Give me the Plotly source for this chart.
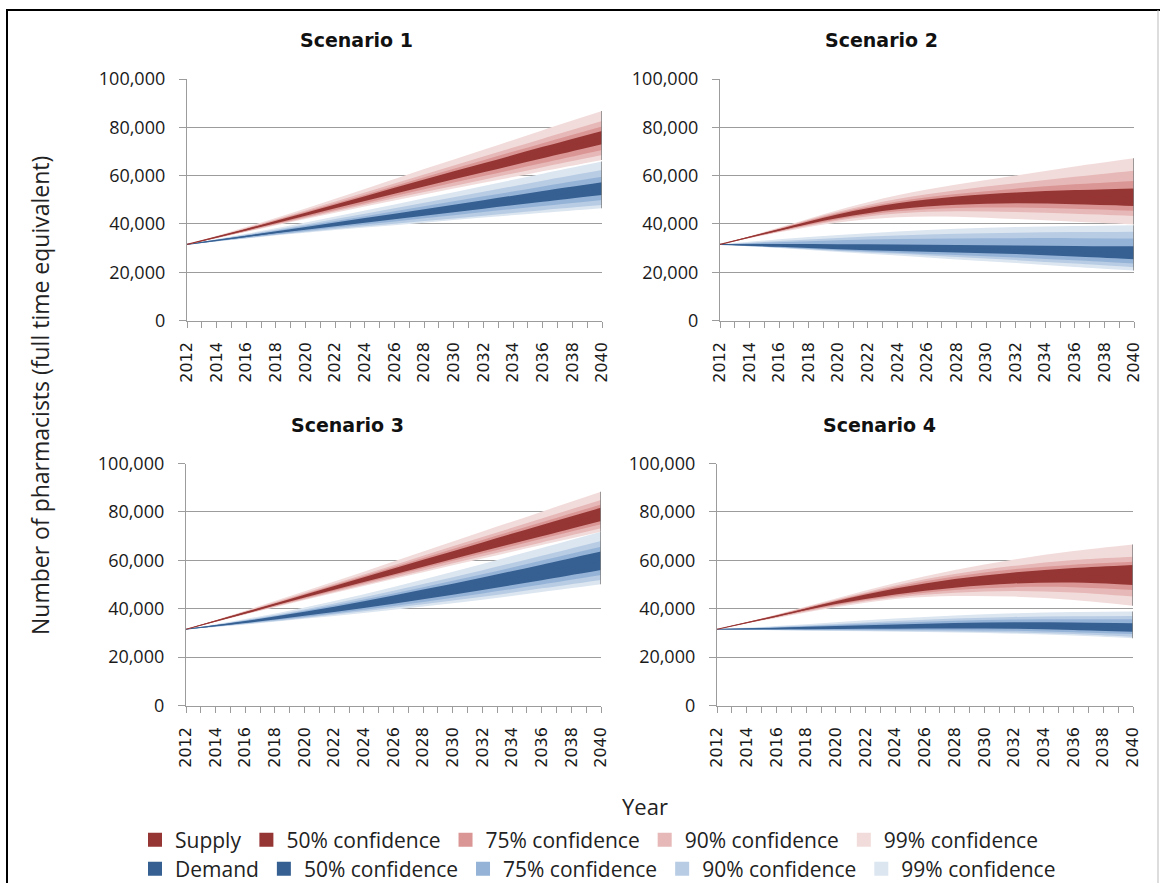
import plotly.graph_objects as go
from plotly.subplots import make_subplots

# ---------------- data (thousands of FTE pharmacists) ----------------
YEARS = [2012, 2016, 2020, 2024, 2028, 2032, 2036, 2040]
TICK_YEARS = list(range(2012, 2041))
LABEL_YEARS = [str(y) if y % 2 == 0 else "" for y in TICK_YEARS]
Y_TICKS = [0, 20000, 40000, 60000, 80000, 100000]
Y_LABELS = ["0", "20,000", "40,000", "60,000", "80,000", "100,000"]
TITLES = ["Scenario 1", "Scenario 2", "Scenario 3", "Scenario 4"]

# Scenario 1 - supply
s1_sup_mid = [31.5, 37.6, 44.0, 50.5, 57.0, 63.3, 69.6, 75.8]
s1_sup_lo99 = [31.5, 36.7, 42.0, 47.2, 52.2, 57.0, 61.8, 66.5]
s1_sup_lo90 = [31.5, 36.9, 42.4, 47.9, 53.2, 58.3, 63.5, 68.5]
s1_sup_lo75 = [31.5, 37.1, 42.9, 48.6, 54.3, 59.8, 65.2, 70.6]
s1_sup_lo50 = [31.5, 37.3, 43.4, 49.5, 55.5, 61.4, 67.2, 73.0]
s1_sup_hi50 = [31.5, 37.9, 44.6, 51.5, 58.4, 65.1, 71.9, 78.5]
s1_sup_hi75 = [31.5, 38.1, 45.0, 52.1, 59.3, 66.4, 73.4, 80.3]
s1_sup_hi90 = [31.5, 38.3, 45.5, 53.0, 60.5, 67.9, 75.3, 82.6]
s1_sup_hi99 = [31.5, 38.7, 46.4, 54.4, 62.7, 70.7, 78.8, 86.7]
# Scenario 1 - demand
s1_dem_mid = [31.5, 34.8, 38.1, 41.4, 44.7, 48.0, 51.3, 54.5]
s1_dem_lo99 = [31.5, 34.0, 36.3, 38.5, 40.5, 42.6, 44.6, 46.5]
s1_dem_lo90 = [31.5, 34.1, 36.6, 39.0, 41.2, 43.4, 45.7, 47.8]
s1_dem_lo75 = [31.5, 34.3, 37.1, 39.7, 42.3, 44.9, 47.4, 49.9]
s1_dem_lo50 = [31.5, 34.6, 37.6, 40.5, 43.4, 46.3, 49.2, 52.0]
s1_dem_hi50 = [31.5, 35.1, 38.7, 42.4, 46.1, 49.8, 53.6, 57.2]
s1_dem_hi75 = [31.5, 35.3, 39.2, 43.2, 47.3, 51.4, 55.5, 59.5]
s1_dem_hi90 = [31.5, 35.6, 39.8, 44.2, 48.8, 53.3, 57.9, 62.3]
s1_dem_hi99 = [31.5, 35.9, 40.6, 45.5, 50.6, 55.7, 60.8, 65.8]

# Scenario 2 - supply
s2_sup_mid = [31.5, 37.5, 43.2, 47.3, 49.6, 50.8, 51.2, 51.0]
s2_sup_lo99 = [31.5, 36.5, 40.6, 42.8, 43.0, 42.0, 40.9, 39.8]
s2_sup_lo90 = [31.5, 36.8, 41.4, 44.3, 45.2, 44.9, 44.2, 43.3]
s2_sup_lo75 = [31.5, 37.0, 41.9, 45.2, 46.6, 46.8, 46.3, 45.4]
s2_sup_lo50 = [31.5, 37.2, 42.4, 46.1, 47.9, 48.5, 48.1, 47.4]
s2_sup_hi50 = [31.5, 37.8, 44.0, 48.5, 51.3, 53.0, 54.0, 54.7]
s2_sup_hi75 = [31.5, 38.0, 44.5, 49.3, 52.4, 54.6, 56.4, 57.8]
s2_sup_hi90 = [31.5, 38.2, 45.0, 50.3, 53.9, 56.8, 59.5, 62.0]
s2_sup_hi99 = [31.5, 38.5, 45.8, 51.9, 56.3, 60.0, 63.8, 67.2]
# Scenario 2 - demand
s2_dem_mid = [31.5, 31.0, 30.5, 30.1, 29.7, 29.3, 28.7, 28.0]
s2_dem_lo99 = [31.5, 30.0, 28.4, 26.9, 25.3, 23.8, 22.2, 20.7]
s2_dem_lo90 = [31.5, 30.1, 28.8, 27.6, 26.3, 25.0, 23.6, 22.1]
s2_dem_lo75 = [31.5, 30.3, 29.1, 28.1, 27.1, 26.1, 24.9, 23.6]
s2_dem_lo50 = [31.5, 30.5, 29.5, 28.8, 28.2, 27.5, 26.5, 25.4]
s2_dem_hi50 = [31.5, 31.7, 31.6, 31.5, 31.3, 31.1, 30.9, 30.7]
s2_dem_hi75 = [31.5, 32.4, 33.2, 33.7, 34.0, 34.1, 34.1, 34.0]
s2_dem_hi90 = [31.5, 32.9, 34.2, 35.2, 35.9, 36.3, 36.6, 36.8]
s2_dem_hi99 = [31.5, 33.6, 35.4, 36.9, 38.0, 38.7, 39.1, 39.4]

# Scenario 3 - supply
s3_sup_mid = [31.5, 38.3, 45.2, 52.0, 58.8, 65.6, 72.3, 79.0]
s3_sup_lo99 = [31.5, 37.6, 43.6, 49.4, 55.1, 60.7, 66.3, 71.8]
s3_sup_lo90 = [31.5, 37.7, 43.9, 49.9, 55.8, 61.7, 67.4, 73.2]
s3_sup_lo75 = [31.5, 37.9, 44.3, 50.5, 56.7, 62.8, 68.9, 74.9]
s3_sup_lo50 = [31.5, 38.0, 44.6, 51.0, 57.3, 63.7, 69.9, 76.2]
s3_sup_hi50 = [31.5, 38.6, 45.8, 53.0, 60.2, 67.4, 74.6, 81.7]
s3_sup_hi75 = [31.5, 38.7, 46.1, 53.5, 60.9, 68.4, 75.7, 83.1]
s3_sup_hi90 = [31.5, 38.9, 46.5, 54.1, 61.9, 69.6, 77.3, 84.9]
s3_sup_hi99 = [31.5, 39.2, 47.2, 55.3, 63.6, 71.9, 80.1, 88.3]
# Scenario 3 - demand
s3_dem_mid = [31.5, 34.5, 37.9, 41.7, 45.9, 50.3, 55.0, 59.8]
s3_dem_lo99 = [31.5, 33.5, 35.8, 38.2, 40.9, 43.7, 46.9, 50.1]
s3_dem_lo90 = [31.5, 33.7, 36.2, 38.9, 41.8, 44.9, 48.4, 51.9]
s3_dem_lo75 = [31.5, 33.9, 36.6, 39.6, 42.8, 46.3, 50.0, 53.9]
s3_dem_lo50 = [31.5, 34.1, 37.1, 40.3, 43.9, 47.7, 51.8, 56.0]
s3_dem_hi50 = [31.5, 34.9, 38.7, 43.1, 47.9, 52.9, 58.2, 63.6]
s3_dem_hi75 = [31.5, 35.1, 39.2, 43.8, 48.9, 54.2, 59.9, 65.6]
s3_dem_hi90 = [31.5, 35.3, 39.7, 44.7, 50.2, 55.9, 61.9, 68.0]
s3_dem_hi99 = [31.5, 35.7, 40.5, 46.0, 52.1, 58.5, 65.1, 71.8]

# Scenario 4 - supply
s4_sup_mid = [31.5, 36.9, 42.5, 47.0, 50.5, 52.7, 53.8, 54.0]
s4_sup_lo99 = [31.5, 36.2, 40.6, 44.0, 45.2, 45.0, 43.6, 41.2]
s4_sup_lo90 = [31.5, 36.4, 41.1, 44.6, 46.6, 47.3, 46.7, 45.0]
s4_sup_lo75 = [31.5, 36.6, 41.5, 45.2, 47.7, 48.9, 48.9, 47.7]
s4_sup_lo50 = [31.5, 36.7, 41.9, 45.9, 48.7, 50.4, 50.8, 49.8]
s4_sup_hi50 = [31.5, 37.1, 43.1, 48.3, 52.3, 55.0, 56.8, 58.1]
s4_sup_hi75 = [31.5, 37.3, 43.4, 49.0, 53.3, 56.3, 58.2, 59.4]
s4_sup_hi90 = [31.5, 37.4, 43.7, 49.6, 54.3, 57.7, 60.1, 61.5]
s4_sup_hi99 = [31.5, 37.6, 44.2, 50.6, 56.0, 60.3, 63.8, 66.5]
# Scenario 4 - demand
s4_dem_mid = [31.5, 31.8, 32.2, 32.6, 33.0, 33.1, 32.8, 32.2]
s4_dem_lo99 = [31.5, 31.1, 30.8, 30.5, 30.2, 29.7, 28.9, 27.8]
s4_dem_lo90 = [31.5, 31.2, 31.0, 30.8, 30.6, 30.2, 29.5, 28.4]
s4_dem_lo75 = [31.5, 31.3, 31.2, 31.2, 31.1, 30.9, 30.3, 29.5]
s4_dem_lo50 = [31.5, 31.5, 31.6, 31.7, 31.8, 31.7, 31.2, 30.5]
s4_dem_hi50 = [31.5, 32.1, 32.8, 33.5, 34.1, 34.4, 34.3, 34.0]
s4_dem_hi75 = [31.5, 32.3, 33.3, 34.2, 35.0, 35.5, 35.6, 35.6]
s4_dem_hi90 = [31.5, 32.5, 33.7, 34.9, 35.9, 36.6, 36.9, 37.0]
s4_dem_hi99 = [31.5, 32.8, 34.4, 35.9, 37.2, 38.1, 38.6, 38.8]

# ---------------- styling ----------------
RED = {"50": "#963634", "75": "#DA9694", "90": "#E6B8B7", "99": "#F2DCDB"}
BLUE = {"50": "#366092", "75": "#95B3D7", "90": "#B8CCE4", "99": "#DCE6F1"}
GRID = "#9C9C9C"
W, H = 1161, 883


def series(p, kind):
    g = globals()
    return {k: [v * 1000 for v in g[f"s{p}_{kind}_{k}"]]
            for k in ["mid", "lo99", "lo90", "lo75", "lo50", "hi50", "hi75", "hi90", "hi99"]}


fig = make_subplots(rows=2, cols=2)
POS = {1: (1, 1), 2: (1, 2), 3: (2, 1), 4: (2, 2)}

for p in range(1, 5):
    r, c = POS[p]
    for kind, pal in (("dem", BLUE), ("sup", RED)):
        d = series(p, kind)
        for b in ["99", "90", "75", "50"]:
            fig.add_trace(go.Scatter(x=YEARS, y=d["lo" + b], mode="lines",
                                     line=dict(width=0, shape="spline", color=pal[b]),
                                     hoverinfo="skip", showlegend=False), row=r, col=c)
            fig.add_trace(go.Scatter(x=YEARS, y=d["hi" + b], mode="lines",
                                     line=dict(width=0, shape="spline", color=pal[b]),
                                     fill="tonexty", fillcolor=pal[b],
                                     hoverinfo="skip", showlegend=False), row=r, col=c)
        fig.add_trace(go.Scatter(x=YEARS, y=d["mid"], mode="lines",
                                 line=dict(width=1.2, shape="spline", color=pal["50"]),
                                 showlegend=False), row=r, col=c)
        fig.add_trace(go.Scatter(x=[YEARS[-1], YEARS[-1]], y=[d["lo99"][-1], d["hi99"][-1]],
                                 mode="lines", line=dict(width=1.5, color="#7F7F7F"),
                                 hoverinfo="skip", showlegend=False), row=r, col=c)

# legend entries (square swatches)
leg_sup = [("Supply", RED["50"]), ("50% confidence", RED["50"]), ("75% confidence", RED["75"]),
           ("90% confidence", RED["90"]), ("99% confidence", RED["99"])]
leg_dem = [("Demand", BLUE["50"]), ("50% confidence", BLUE["50"]), ("75% confidence", BLUE["75"]),
           ("90% confidence", BLUE["90"]), ("99% confidence", BLUE["99"])]
for name, col in leg_sup:
    fig.add_trace(go.Scatter(x=[None], y=[None], mode="markers", name=name,
                             marker=dict(symbol="square", size=14, color=col), legend="legend"))
for name, col in leg_dem:
    fig.add_trace(go.Scatter(x=[None], y=[None], mode="markers", name=name,
                             marker=dict(symbol="square", size=14, color=col), legend="legend2"))

# ---------------- axes / layout ----------------
def px_x(v):
    return v / W


def px_y(v):
    return 1 - v / H


XDOM = {1: [px_x(187), px_x(602)], 2: [px_x(720), px_x(1134)],
        3: [px_x(186), px_x(601)], 4: [px_x(717), px_x(1133)]}
YDOM = {1: [px_y(320.5), px_y(79)], 2: [px_y(320.5), px_y(79)],
        3: [px_y(705.5), px_y(463.5)], 4: [px_y(705.5), px_y(463.5)]}

for p in range(1, 5):
    sfx = "" if p == 1 else str(p)
    fig.layout["xaxis" + sfx].update(
        domain=XDOM[p], range=[2012, 2040], tickvals=TICK_YEARS, ticktext=LABEL_YEARS,
        tickangle=-90, ticks="outside", ticklen=6, tickcolor=GRID, tickwidth=1,
        showline=True, linecolor=GRID, linewidth=1.3, showgrid=False, zeroline=False,
        ticklabelstandoff=8, automargin=False,
        tickfont=dict(family="DejaVu Sans", size=16, color="#1a1a1a"))
    fig.layout["yaxis" + sfx].update(
        domain=YDOM[p], range=[0, 100000], tickvals=Y_TICKS, ticktext=Y_LABELS,
        ticks="outside", ticklen=7, tickcolor=GRID, tickwidth=1,
        showline=True, linecolor=GRID, linewidth=1.3, showgrid=True, gridcolor=GRID,
        gridwidth=1.3, zeroline=False, ticklabelstandoff=10, automargin=False,
        tickfont=dict(family="Open Sans", size=18, color="#1a1a1a"))

TITLE_POS = [(356, 40), (881, 40), (347, 425), (879, 425)]
annotations = []
for t, (tx, ty) in zip(TITLES, TITLE_POS):
    annotations.append(dict(text=f"<b>{t}</b>", x=px_x(tx), y=px_y(ty), xref="paper", yref="paper",
                            showarrow=False, xanchor="center", yanchor="middle",
                            font=dict(family="DejaVu Sans", size=19, color="#111")))
annotations.append(dict(text="Number of pharmacists (full time equivalent)", x=px_x(40), y=px_y(396),
                        xref="paper", yref="paper", showarrow=False, textangle=-90,
                        xanchor="center", yanchor="middle",
                        font=dict(family="Open Sans", size=23, color="#222")))
annotations.append(dict(text="Year", x=px_x(645), y=px_y(806), xref="paper", yref="paper",
                        showarrow=False, xanchor="center", yanchor="middle",
                        font=dict(family="Open Sans", size=22, color="#222")))

shapes = [
    dict(type="line", xref="paper", yref="paper", x0=px_x(6), x1=px_x(1160), y0=px_y(10), y1=px_y(10),
         line=dict(color="black", width=2)),
    dict(type="line", xref="paper", yref="paper", x0=px_x(7), x1=px_x(7), y0=px_y(10), y1=0,
         line=dict(color="black", width=2)),
    dict(type="line", xref="paper", yref="paper", x0=px_x(1158), x1=px_x(1158), y0=px_y(10), y1=0,
         line=dict(color="#BBBBBB", width=1)),
]

legend_style = dict(orientation="h", xanchor="left", yanchor="middle", bgcolor="rgba(0,0,0,0)",
                    font=dict(family="Open Sans", size=21, color="#222"), itemwidth=30,
                    tracegroupgap=0, traceorder="normal", xref="container", yref="container")

fig.update_layout(
    template="none",
    width=W, height=H, autosize=False,
    margin=dict(l=0, r=0, t=0, b=0, pad=0, autoexpand=False),
    paper_bgcolor="white", plot_bgcolor="white",
    annotations=annotations, shapes=shapes,
    legend=dict(x=px_x(135), y=px_y(840), **legend_style),
    legend2=dict(x=px_x(135), y=px_y(869), **legend_style),
    showlegend=True,
)

fig.write_html("out.html", config={"displayModeBar": False},
               post_script="document.body.style.margin='0';document.body.style.overflow='hidden';")
